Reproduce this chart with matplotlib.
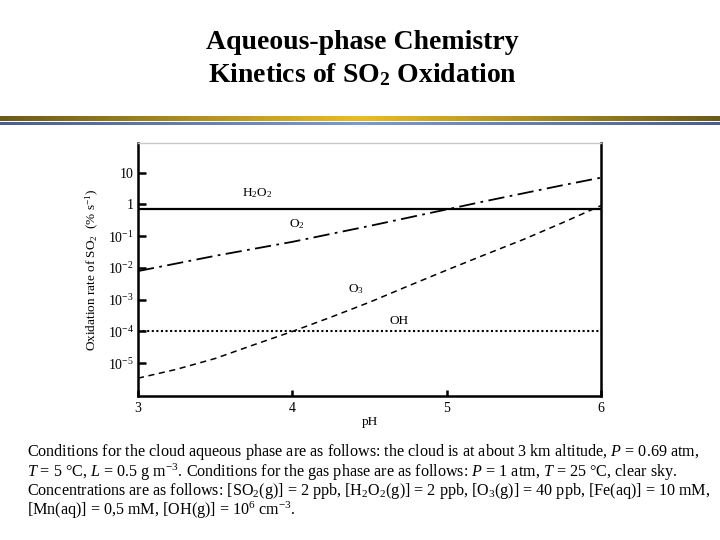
import matplotlib
matplotlib.use("Agg")
import matplotlib.pyplot as plt
import numpy as np
from matplotlib.colors import LinearSegmentedColormap

plt.rcParams['font.family'] = 'Liberation Serif'
plt.rcParams['mathtext.fontset'] = 'custom'
plt.rcParams['mathtext.rm'] = 'Liberation Serif'
plt.rcParams['mathtext.it'] = 'Liberation Serif:italic'
plt.rcParams['mathtext.bf'] = 'Liberation Serif:bold'

# Data (log10 of oxidation rate, % s^-1)
ph = [3.0, 3.25, 3.5, 3.75, 4.0, 4.25, 4.5, 4.75, 5.0, 5.25, 5.5, 5.75, 6.0]
log_o2 = [-2.1, -1.86, -1.62, -1.40, -1.18, -0.93, -0.68, -0.42, -0.16, 0.10, 0.35, 0.60, 0.84]
log_o3 = [-5.47, -5.19, -4.85, -4.42, -4.0, -3.55, -3.08, -2.57, -2.07, -1.58, -1.1, -0.58, -0.04]
h2o2_rate = 0.7
oh_rate = 1e-4

yticks = [1e1, 1e0, 1e-1, 1e-2, 1e-3, 1e-4, 1e-5]
ytick_labels = ['10', '1', '10$^{-1}$', '10$^{-2}$', '10$^{-3}$', '10$^{-4}$', '10$^{-5}$']
xticks = [3, 4, 5, 6]

fig = plt.figure(figsize=(7.2, 5.4), dpi=100)

# Title
fig.text(0.503, 0.922, 'Aqueous-phase Chemistry', ha='center', va='center',
         fontsize=20, fontweight='bold')
fig.text(0.503, 0.861, r'Kinetics of SO$_\mathbf{2}$ Oxidation', ha='center', va='center',
         fontsize=20, fontweight='bold')

# Decorative gradient bars
g = np.abs(np.linspace(-1, 1, 256))[None, :]
gold = LinearSegmentedColormap.from_list('gold', ['#e8bd22', '#6b5a1c'])
blue = LinearSegmentedColormap.from_list('blue', ['#7a9ad0', '#4a5f8e'])
ax_g = fig.add_axes([0, 1 - 121 / 540, 1, 5 / 540])
ax_g.imshow(g, cmap=gold, aspect='auto')
ax_g.axis('off')
ax_b = fig.add_axes([0, 1 - 125.5 / 540, 1, 3.5 / 540])
ax_b.imshow(g, cmap=blue, aspect='auto')
ax_b.axis('off')

# Main chart
ax = fig.add_axes([138 / 720, 144 / 540, 463 / 720, 253 / 540])
ax.set_yscale('log')
ax.axhline(h2o2_rate, color='black', lw=1.6)
ax.axhline(oh_rate, color='black', lw=1.5, ls=(0, (1, 1.2)))
ax.plot(ph, 10 ** np.array(log_o2), color='black', lw=1.3, ls=(0, (9, 3, 1.5, 3)))
ax.plot(ph, 10 ** np.array(log_o3), color='black', lw=1.1, ls=(0, (4, 3)))

ax.text(3.77, 2.2, 'H$_2$O$_2$', fontsize=9.5, ha='center', va='center')
ax.text(4.03, 0.24, 'O$_2$', fontsize=9.5, ha='center', va='center')
ax.text(4.41, 0.0022, 'O$_3$', fontsize=9.5, ha='center', va='center')
ax.text(4.69, 0.00022, 'OH', fontsize=9.5, ha='center', va='center')

ax.set_xlim(3, 6)
ax.set_ylim(10 ** -6.03, 10 ** 1.93)
ax.set_xticks(xticks)
ax.set_xticklabels([str(t) for t in xticks], fontsize=10)
ax.set_yticks(yticks)
ax.set_yticklabels(ytick_labels, fontsize=10)
ax.yaxis.set_minor_locator(matplotlib.ticker.NullLocator())
ax.tick_params(axis='both', direction='in', length=4, width=1.8, pad=4)
ax.tick_params(axis='y', length=6, pad=3)
for s in ['left', 'bottom', 'right']:
    ax.spines[s].set_linewidth(1.8)
ax.spines['top'].set_color('#c8c8c8')
ax.spines['top'].set_linewidth(1.0)
ax.set_xlabel('pH', fontsize=9.5, labelpad=1)
ax.set_ylabel('Oxidation rate of SO$_2$  (% s$^{-1}$)', fontsize=9.5, labelpad=5)

# Caption
lines = [
    r'Conditions for the cloud aqueous phase are as follows: the cloud is at about 3 km altitude, $\it{P}$ = 0.69 atm,',
    r'$\it{T}$ = 5 °C, $\it{L}$ = 0.5 g m$^{-3}$. Conditions for the gas phase are as follows: $\it{P}$ = 1 atm, $\it{T}$ = 25 °C, clear sky.',
    r'Concentrations are as follows: [SO$_2$(g)] = 2 ppb, [H$_2$O$_2$(g)] = 2 ppb, [O$_3$(g)] = 40 ppb, [Fe(aq)] = 10 mM,',
    r'[Mn(aq)] = 0,5 mM, [OH(g)] = 10$^6$ cm$^{-3}$.',
]
ys = [452, 472, 491, 510]
for t, y in zip(lines, ys):
    fig.text(27 / 720, 1 - y / 540, t, ha='left', va='center', fontsize=11.6)

fig.savefig('out.png', dpi=100)
